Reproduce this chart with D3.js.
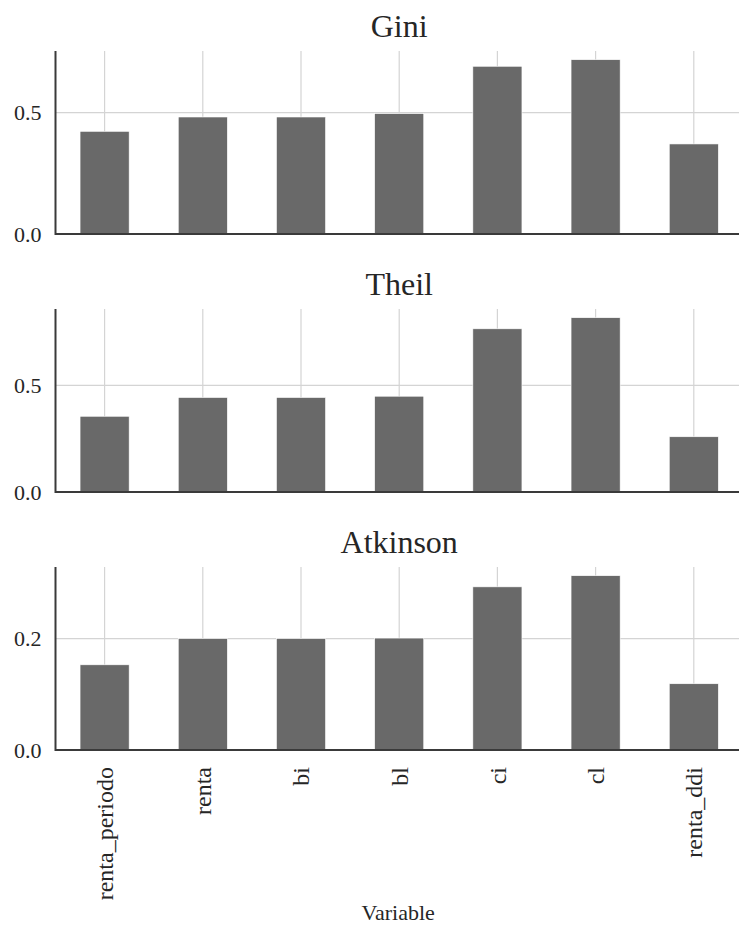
<!DOCTYPE html>
<meta charset="utf-8">
<style>
  body { margin: 0; background: #fff; }
  text {
    font-family: "Liberation Serif", "DejaVu Serif", serif;
    fill: #262626;
  }
  .grid line { stroke: #d4d4d4; stroke-width: 1.2px; }
  .spine { stroke: #3a3a3a; stroke-width: 2px; fill: none; }
  .bar { fill: #696969; stroke: #fff; stroke-width: 0.6px; }
</style>
<svg width="739" height="927"></svg>
<script src="https://d3js.org/d3.v7.min.js"></script>
<script>

  // categories on the x axis
  var categories = ["renta_periodo", "renta", "bi", "bl", "ci", "cl", "renta_ddi"];

  // one value per category for each index
  var gini = [0.423, 0.482, 0.482, 0.496, 0.691, 0.718, 0.371];
  var theil = [0.355, 0.443, 0.443, 0.449, 0.765, 0.817, 0.259];
  var atkinson = [0.153, 0.200, 0.200, 0.201, 0.293, 0.313, 0.119];

  var titles = ["Gini", "Theil", "Atkinson"];
  var yTicks = [[0, 0.5], [0, 0.5], [0, 0.2]];
  var xLabel = "Variable";

  var series = [gini, theil, atkinson];

  var svg = d3.select("svg");

  var left = 55.5,
    bandW = 98.2,
    panelH = 183,
    panelTops = [51, 309, 567];

  var x = d3.scaleBand()
    .domain(categories)
    .range([left, left + bandW * categories.length])
    .padding(0);

  series.forEach(function (values, p) {
    var top = panelTops[p],
      bottom = top + panelH;

    var y = d3.scaleLinear()
      .domain([0, d3.max(values) * 1.05])
      .range([bottom, top]);

    var g = svg.append("g");

    // grid lines
    var grid = g.append("g").attr("class", "grid");
    grid.selectAll(".hg")
      .data(yTicks[p])
      .enter().append("line")
      .attr("class", "hg")
      .attr("x1", x.range()[0]).attr("x2", x.range()[1])
      .attr("y1", function (d) { return y(d); })
      .attr("y2", function (d) { return y(d); });
    grid.selectAll(".vg")
      .data(categories)
      .enter().append("line")
      .attr("class", "vg")
      .attr("x1", function (d) { return x(d) + x.bandwidth() / 2; })
      .attr("x2", function (d) { return x(d) + x.bandwidth() / 2; })
      .attr("y1", top).attr("y2", bottom);

    // bars
    g.selectAll(".bar")
      .data(values)
      .enter().append("rect")
      .attr("class", "bar")
      .attr("x", function (d, i) { return x(categories[i]) + x.bandwidth() * 0.25; })
      .attr("width", x.bandwidth() * 0.5)
      .attr("y", function (d) { return y(d); })
      .attr("height", function (d) { return bottom - y(d); });

    // y axis (labels only, no tick marks)
    var yAxis = d3.axisLeft(y)
      .tickValues(yTicks[p])
      .tickFormat(d3.format(".1f"))
      .tickSize(0)
      .tickPadding(14);
    var ya = g.append("g")
      .attr("transform", "translate(" + left + ",0)")
      .call(yAxis)
      .attr("font-family", null);
    ya.select(".domain").remove();
    ya.selectAll("text")
      .style("font-size", "22px")
      .attr("fill", "#262626");

    // spines
    g.append("path")
      .attr("class", "spine")
      .attr("d", "M" + left + "," + top + "V" + bottom + "H" + x.range()[1]);

    // title
    g.append("text")
      .attr("x", (x.range()[0] + x.range()[1]) / 2)
      .attr("y", top - 13.7)
      .attr("text-anchor", "middle")
      .style("font-size", "32px")
      .text(titles[p]);

    // x tick labels on the last panel
    if (p === series.length - 1) {
      g.selectAll(".xl")
        .data(categories)
        .enter().append("text")
        .attr("class", "xl")
        .attr("text-anchor", "end")
        .attr("dy", "0.35em")
        .attr("transform", function (d) {
          return "translate(" + (x(d) + x.bandwidth() / 2) + "," + (bottom + 17) + ") rotate(-90)";
        })
        .style("font-size", "24px")
        .text(function (d) { return d; });

      g.append("text")
        .attr("x", (x.range()[0] + x.range()[1]) / 2 - 1)
        .attr("y", 920)
        .attr("text-anchor", "middle")
        .style("font-size", "22px")
        .text(xLabel);
    }
  });

</script>
